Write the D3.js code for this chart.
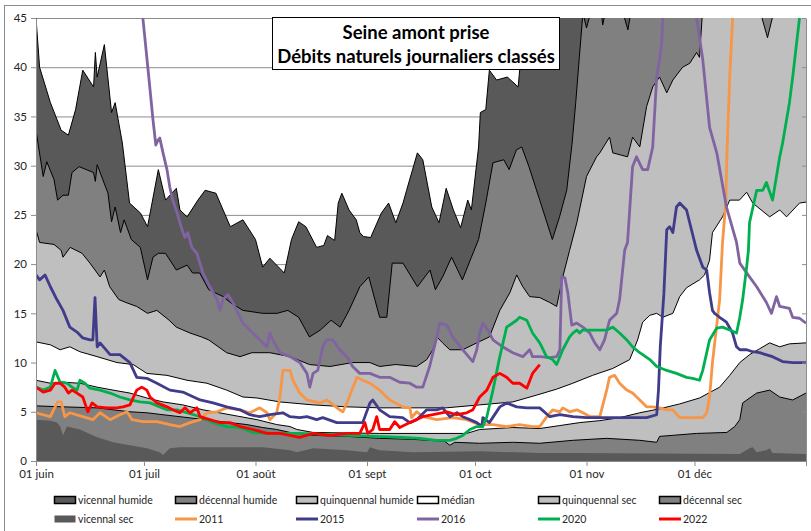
<!DOCTYPE html>
<html>
<head>
<meta charset="utf-8">
<script src="https://cdn.jsdelivr.net/npm/d3@7"></script>
<style>
	body { margin: 0; background: #fff; }
	svg { display: block; font-family: Lato, 'Liberation Sans', sans-serif; }
</style>
</head>
<body>
<div id="chart"></div>
<script>
// [days since 1 June, débit]
const vicennalHumide = [[0,45],[1,40],[4,36.4],[7,33.6],[9,33.1],[11,35.7],[13,39.7],[16,38],[16.5,41.5],[17,39],[19,42.3],[21,35.4],[22,36.4],[24,32.3],[26,26.2],[29,25.2],[31,23.8],[34,29.6],[36,26.5],[39,27.7],[40,25.5],[42,24.8],[45,26.5],[47,27.5],[50,27.2],[54,23.8],[57.5,24.5],[61,22.5],[63,19.7],[65,20.6],[69,19.1],[71,22.5],[73,24.3],[75,23.8],[78,21.7],[80,21.9],[81,22.9],[83,22.4],[84,26.2],[85,27.2],[87,25.5],[89,24.5],[90,23.2],[91,22.8],[93,22.7],[96,25.2],[98,26.2],[100,24.2],[102,26.2],[103,27.5],[106,31.3],[107.5,30.6],[110,25.8],[112,24.2],[114,27.7],[116,25.5],[118,23.7],[120,26.5],[121,25.5],[123,31.9],[123.5,35.4],[125,35.7],[126,39.7],[128,38.7],[131,39],[134,38],[134.5,40],[135,44.5],[136,48],[140,55],[150,60],[170,62],[190,65],[214,65]]
const decennalHumide = [[0,33.6],[2,28.9],[3,30.4],[5,28.6],[6,26.5],[7.5,27],[9,27],[10,29.3],[12,29.9],[16,29.3],[16.5,28.4],[17,30.1],[20,27.2],[21,24.3],[22,25.8],[23.5,23.2],[24.5,24.5],[26.5,22.5],[29,21.7],[31,18.4],[32.5,20.7],[34,21.1],[36,21.1],[39,19.4],[42,19.9],[43.5,19.1],[45.5,19.1],[48,17.4],[52,16.7],[54,16.1],[57.5,15.3],[63,15],[67,15],[70,15.3],[73,14.6],[76,12.6],[79,13.3],[82,14.3],[84.5,13.6],[87,15.3],[90,17.7],[92.5,18.7],[95.5,14.6],[97.5,14.6],[99,20.1],[102,20.1],[106,17.7],[109.5,19.4],[111,17.4],[113,18.7],[115.5,20.7],[118.5,18.4],[121,20.7],[123,22.5],[125,26.2],[127,30.3],[130,30.6],[131.5,29.6],[133.5,31.6],[135,31.9],[137,29.9],[140,26.5],[143.5,22.5],[145.5,24.8],[147.5,27.5],[149,32.3],[150,36.4],[151,41],[152,45.5],[153,44],[154.5,46],[157,46],[157.5,44.3],[158.5,46],[162,47],[164.5,43.8],[166,47],[180,52],[214,60]]
const quinquennalHumide = [[0,23.5],[1,22.2],[5,22],[7,21.4],[7.5,20.7],[9.5,21.7],[12.8,21.1],[15,20.1],[17.8,18.7],[19,19.4],[20.5,17.7],[23,16.4],[25,16.1],[28,15.7],[31,15],[33.6,15.3],[37,14.3],[39,13.6],[42.8,13],[46,12.6],[48,12.3],[53,11],[56.7,10.6],[60,11],[65,11],[70.6,10.6],[76,9.8],[81.7,9.6],[88,10],[92.8,10],[95.5,9.6],[100,9.8],[105.8,9.6],[108.6,10.3],[110.3,11.3],[111.4,12.6],[113,12],[115,11.3],[118.6,11.3],[122.5,12],[126,12.6],[128.9,15.3],[131.7,17.1],[133.6,18.9],[135.3,17.7],[137.2,16.7],[140,16.6],[142.8,16.1],[144.7,15.7],[146.4,18.7],[148.3,21.4],[150.3,24.2],[153,28.9],[155.8,30.9],[156.7,31.3],[159.4,32.9],[160.3,31.3],[164.4,30.9],[165.8,32.9],[167.8,31.9],[169.7,36],[171.4,38],[173.3,39],[175.3,37.4],[177,38.7],[179.7,40],[181.7,40.4],[183.6,41.5],[184.4,41],[185.3,46],[195,49],[201,46],[203.3,43],[205.3,46],[214,50]]
const median = [[0,12.1],[4,11.8],[6.7,11.3],[9.4,11.6],[12.2,11.1],[17,10.6],[22.5,10],[27,9.8],[30.8,8.9],[36.4,8.7],[42,8.2],[47.5,7.9],[53,7.2],[57.5,6.5],[61.4,6.4],[67.8,6],[77,5.7],[86.4,5.5],[95.5,5.4],[104.7,5.4],[114,5.4],[123.3,5.7],[132.5,6],[139.2,6.7],[144.7,7.3],[149.2,7.9],[154.7,8.7],[160.3,9.4],[165,10.3],[167.2,12.3],[168.6,14.1],[170.6,14.8],[172.5,15],[174.2,14.6],[177,15],[178.9,16.7],[180.8,17.6],[184.4,18.4],[185.8,18.9],[187.2,20.4],[188,23.2],[190.8,24.8],[192.8,26.5],[195.5,26.5],[197.5,27.3],[199.2,26.2],[203.9,24.8],[206.7,25.5],[208.6,24.8],[212.2,26.2],[214,26.3]]
const quinquennalSec = [[0,8.2],[4,7.9],[7.5,8],[12.2,7.9],[17,7.5],[21.4,7.2],[26.1,6.9],[30.8,6.4],[35.3,6],[40.8,5.7],[46.4,5.2],[53.9,4.7],[61.4,4.2],[66.9,3.7],[70.6,3.5],[72.5,3.2],[77,2.9],[95.5,2.8],[119.7,2.8],[123.3,3.2],[132.5,3.4],[140,3.3],[145.6,3.6],[151.1,3.9],[156.7,4.1],[162.2,4.4],[167.8,4.9],[173.3,5.3],[178.9,5.8],[184.4,6.4],[190,7.5],[192.8,8.7],[195.6,10],[198.3,10.8],[201.1,11.4],[203.9,12],[206.7,11.6],[209.4,11.9],[214,12]]
const decennalSec = [[0,5.6],[7.5,5.5],[17,5.4],[21.4,5.2],[26.1,5],[30.8,4.9],[35.3,4.7],[40,4.5],[44.7,4.3],[49.2,4.1],[53.9,3.9],[58.6,3.7],[63,3.4],[66.9,3.2],[70.6,2.9],[77,2.6],[86.4,2.5],[95.5,2.3],[104.7,2.2],[113.6,2],[115,1.6],[116.4,1.9],[123.3,1.8],[132.5,1.9],[140,1.8],[149.2,2.1],[158.6,2.3],[167.8,2.1],[172.5,1.9],[173.3,2.5],[183.6,2.8],[192,2.9],[194.2,3.5],[195.6,4.2],[196.4,5.9],[200.3,6.9],[203.9,7.2],[206.7,6.5],[210.3,6.2],[214,6.9]]
const vicennalSec = [[0,4.2],[4,4.1],[5.8,3.9],[6.7,3.5],[7.5,2.6],[8.6,3.5],[12.2,3.2],[17,2.4],[21.4,1.9],[26.1,1.6],[30.8,1.3],[34.4,0.9],[35.3,0.6],[37.2,1.3],[40,1.4],[63,1.4],[70.6,1.1],[72.5,0.9],[77,1.3],[86.4,1.1],[92,0.9],[92.8,1.4],[95.5,1.1],[104.7,0.9],[123.3,1],[140,0.8],[149.2,0.8],[195.6,0.7],[198.3,1.3],[199.2,1.4],[200.3,0.9],[203,1.1],[203.9,1.3],[204.7,0.8],[214,0.7]]

const year2011 = [[0,4.9],[2,4.7],[4,4.5],[6,6],[7,6],[8,4.5],[9.4,4.9],[13,4.5],[15.8,4.2],[17.8,4.9],[20.6,4.2],[23.3,4.7],[25.3,5],[26.7,4.2],[29.7,4],[33.6,4],[37.2,3.7],[40,3.5],[42.8,3.9],[45.6,4.2],[47.5,4.9],[50.3,5],[53,5.4],[56.7,5.2],[59.4,4.9],[62.2,5.4],[64.2,4.9],[65,4.2],[66.9,4.9],[67.8,6.5],[68.6,9.2],[70.6,9.2],[71.4,8.2],[73.3,6.9],[75.3,6.2],[78.9,5.9],[80.8,6.2],[84.4,5.2],[85.3,5],[86.4,5.9],[89.2,8.5],[90.8,8.2],[92.8,7.9],[95.5,7.2],[98.3,6.2],[101.9,5.5],[103.9,5.4],[104.4,4.4],[105.8,5],[107.5,4.5],[111.4,4.2],[115.8,4.4],[119.7,4.2],[123.3,3.7],[127,3.7],[130.8,3.5],[134.4,3.7],[138,3.5],[140,3.5],[142,4.5],[143.6,5.2],[145.6,5],[146.4,5.4],[148.3,5],[150.3,5.2],[152,4.9],[154,4.5],[156.7,4.5],[158.6,7.2],[159.4,8.5],[160.8,8.7],[162.2,7.9],[164.2,7.2],[165.8,6.9],[167.8,6.2],[169.7,5.5],[171.4,5.5],[173.3,5.4],[175.3,5.2],[177,5.2],[178.9,4.4],[182.5,4.4],[185.3,4.4],[186.4,4.9],[187.2,6.5],[188,10],[190,16.4],[190.8,22.2],[191.7,26.2],[192,30.9],[192.8,39],[193.6,45],[194.5,52]]
const year2015 = [[0,18.9],[1,18.4],[2.5,18.9],[4,17.7],[5.8,16.4],[7.5,15.3],[9.4,13.6],[11.4,13.1],[13,12.5],[15,12.3],[15.8,12.3],[16.4,16.6],[17,11.6],[17.8,12],[20.6,10.8],[23.3,10.8],[26.1,10],[28,8.5],[30.8,8.4],[33.6,7.9],[37.2,7.2],[40.8,7],[45.6,6.2],[49.2,5.9],[53,5.5],[56.7,5.2],[59.4,4.7],[62.2,4.5],[65,4.7],[68.6,4.9],[70.6,4.5],[73.3,4.4],[75.3,4.5],[78,4.2],[79.7,4.4],[83.6,3.9],[87.2,3.9],[90.8,3.9],[92.8,5.9],[93.6,6.2],[95.5,5.2],[98.3,4.5],[101.9,4.4],[103.9,3.9],[105.8,4.2],[108.6,5.2],[111.4,5.2],[113,5.4],[115,4.5],[117,4.9],[118.6,4.5],[120.6,4.2],[122.5,3.9],[123.9,3.5],[124.2,4.4],[126,3.9],[128.9,5.5],[130.8,5.9],[133.6,5.5],[136.4,5.4],[140,5.4],[142.8,4.5],[145.6,4.7],[149.2,4.5],[153,4.4],[158.6,4.4],[164.2,4.4],[169.7,4.4],[172.5,4.7],[173,7.2],[173.5,11.6],[174.5,17],[175.3,23.5],[176.1,23.8],[177,23.2],[178,25.8],[178.9,26.2],[180.8,25.5],[183.6,21.4],[185.3,19.7],[186.4,19.4],[187.2,17.1],[188,15.3],[188.6,15],[190,14.6],[191.9,14.1],[193.6,13],[194.7,11.6],[195.6,11.3],[197.5,11.3],[199.2,11.1],[201.1,11],[204.7,10.6],[207.5,10.1],[210.3,10],[214,10]]
const year2016 = [[28,52],[29.7,45],[30.8,41],[31.7,37.7],[32.5,34.7],[33.3,32.1],[33.9,32.6],[34.4,32.8],[35.3,31.3],[36.4,29.6],[37.2,27.8],[38,26.5],[39.2,25.2],[40.6,23.5],[41.4,22.7],[42.2,23.2],[43.3,21.7],[44.7,21.1],[46.4,19.1],[48.3,17.7],[50.3,16.4],[51.1,15.3],[52,16.4],[53.3,16.9],[54.7,16.1],[57.5,14],[59.4,13.3],[62.2,12.3],[64.2,11.6],[65,13],[65.8,12.3],[67.8,11],[70.6,10.6],[73.3,10],[75.3,8.9],[76.1,7.5],[77,8.9],[78.3,9.2],[79.7,11.6],[80.8,12.3],[82.5,12.3],[84.4,11.3],[86.4,10.6],[88,9.6],[90,8.9],[92.8,8.9],[95.5,8.5],[98.3,8.5],[101.1,8],[103.9,7.9],[105.8,7.5],[107.5,7.5],[109.4,9.6],[111.4,12.6],[112.2,14],[114.2,13.8],[115.8,12.6],[118.6,11.3],[121.4,10.1],[122.5,11.3],[123.3,13],[124.2,14],[125.6,13.3],[127,12.3],[129.7,11.6],[132.5,11],[135.3,10.6],[137.2,11.3],[138,10.6],[140,10.6],[142.8,10.5],[144.7,10.6],[145.6,11.3],[146.1,18.7],[147,18.6],[147.8,17.1],[148.9,13.8],[150.3,14],[152,13.6],[153.9,13],[155.3,12],[156.7,11.3],[158,12.3],[159.4,14.3],[161.4,15],[162.2,16.4],[163.6,21.4],[164.4,22.2],[165.8,29.9],[166.9,30.9],[168.6,29.6],[170,29.6],[171.4,31.9],[172.5,39],[173.3,40.8],[173.9,42.5],[174.2,45],[175,52],[183,52],[183.6,45],[185.3,40.8],[187.2,33.9],[189.2,31.3],[191.9,25.8],[194.7,22.2],[195.6,20.1],[198.3,18.7],[200.3,17.7],[203,16.1],[204.4,15],[205.8,16.7],[206.7,15.7],[209.4,15.5],[210.3,14.6],[212.2,14.5],[214,14]]
const year2020 = [[0,7.5],[2,7.2],[4,7.5],[5.3,9.2],[6.7,8],[8.6,7.9],[10,7.5],[11.4,7.2],[12.2,8.2],[13.6,7.9],[15,7.4],[17.8,7.2],[20.6,6.9],[23.3,6.5],[26.1,6.2],[28.9,6],[31.7,5.9],[34.4,5.5],[36.4,5.2],[39.2,5.2],[41.9,4.9],[45.6,4.5],[49.2,3.9],[53,3.5],[56.7,3.4],[60.3,2.9],[65,2.8],[73.3,2.8],[87.2,2.6],[101.9,2.4],[106.7,2.3],[111.4,2.1],[115,2.1],[116.9,2.3],[118.6,2.6],[120.6,3.2],[122.5,3.5],[124.2,3.5],[125.3,4.5],[127,7.2],[128.9,10.6],[130.8,13.6],[133.6,14.3],[134.4,14.6],[136.4,14.3],[138,13],[140,12],[141.9,10.6],[143.6,10.3],[144.7,9.8],[146.4,11.3],[148.3,12.6],[149.2,13],[150.3,13.3],[151.1,13],[151.9,13.3],[158.6,13.3],[160.3,13.6],[162.2,13],[164.2,12.3],[165.8,11.6],[167.8,11],[170.6,10.3],[172.5,9.6],[175.3,9.2],[178,8.9],[180.8,8.5],[182.5,8.4],[184.4,8.2],[185.3,9.2],[187.2,12.3],[189.2,13.5],[190.8,13.6],[192.8,13.3],[194.7,13],[195.6,14.6],[196.4,16.4],[197.5,19.7],[198,21.4],[198.3,24.2],[200.3,27.5],[202,27.5],[203,28.3],[204.7,26.5],[206.7,30.9],[207.5,32.3],[209.4,36.4],[210.3,39],[211.4,42.5],[212.2,45],[213,50]]
const year2022 = [[0,7.5],[2,7],[4,7.2],[5.3,7.9],[6.7,7.9],[8,7.5],[9,6.9],[10,7.2],[11.4,6.9],[13,6.5],[14.4,5],[15.6,5.9],[17,5.5],[19.7,5.4],[22.5,5.4],[24.2,5.5],[26.1,5.7],[28,7.2],[29.4,7.5],[30.8,7.2],[31.7,6.5],[33.6,5.9],[36.4,5.5],[38,5.2],[40,4.9],[41.4,5.4],[42.8,4.9],[44.7,5.4],[45.6,4.5],[48.3,4.2],[51.1,3.9],[53.9,3.9],[56.7,3.5],[60.3,3.2],[64.2,2.8],[67.8,2.8],[73.3,2.4],[77,2.8],[81.7,2.6],[86.4,2.8],[90,2.8],[91.4,3.9],[92.2,2.8],[93.6,3.2],[94.7,4.5],[95.5,3.2],[98.3,3.2],[99.7,4],[101.1,3.4],[103.9,3.9],[107.5,4.5],[110.3,4.7],[114.2,5],[116.9,4.7],[119.7,4.9],[121.4,5.2],[123.3,6.5],[125.3,7.2],[127,8.5],[128.9,8.9],[130.8,8.5],[132.5,7.9],[134.4,7.9],[136.4,7.4],[138,8.9],[140,9.8]]

const yTicks = [0, 5, 10, 15, 20, 25, 30, 35, 40, 45]
const xTickLabels = ['01 juin', '01 juil', '01 août', '01 sept', '01 oct', '01 nov', '01 déc', '']
const titleLines = ['Seine amont prise', 'Débits naturels journaliers classés']

const bands = [
	{ label: 'vicennal humide', values: vicennalHumide, fill: '#595959', border: true },
	{ label: 'décennal humide', values: decennalHumide, fill: '#808080', border: true },
	{ label: 'quinquennal humide', values: quinquennalHumide, fill: '#bfbfbf', border: true },
	{ label: 'médian', values: median, fill: '#ffffff', border: true },
	{ label: 'quinquennal sec', values: quinquennalSec, fill: '#bfbfbf', border: true },
	{ label: 'décennal sec', values: decennalSec, fill: '#808080', border: true },
	{ label: 'vicennal sec', values: vicennalSec, fill: '#595959', border: false }
]
const years = [
	{ label: '2011', values: year2011, colour: '#f79646' },
	{ label: '2015', values: year2015, colour: '#403c8a' },
	{ label: '2016', values: year2016, colour: '#8064a2' },
	{ label: '2020', values: year2020, colour: '#00b050' },
	{ label: '2022', values: year2022, colour: '#ff0000' }
]

const width = 811, height = 531
const plot = { left: 36, right: 806, top: 18, bottom: 461 }
const start = new Date(Date.UTC(2022, 5, 1))
const end = new Date(Date.UTC(2023, 0, 1))
const toDate = d => new Date(start.getTime() + d * 864e5)

const svg = d3.select('#chart').append('svg')
	.attr('width', width)
	.attr('height', height)

// outer chart frame
svg.append('rect')
	.attr('x', 4.5).attr('y', 5.5)
	.attr('width', 900).attr('height', 600)
	.attr('fill', '#fff')
	.attr('stroke', '#8c8c8c')

const x = d3.scaleUtc().domain([start, end]).range([plot.left, plot.right])
const y = d3.scaleLinear().domain([0, 45]).range([plot.bottom, plot.top])

svg.append('defs').append('clipPath').attr('id', 'plotclip')
	.append('rect')
		.attr('x', plot.left).attr('y', plot.top)
		.attr('width', plot.right - plot.left).attr('height', plot.bottom - plot.top)

svg.append('g')
	.selectAll('line')
	.data(yTicks.slice(1))
	.enter().append('line')
		.attr('x1', plot.left).attr('x2', plot.right)
		.attr('y1', d => y(d) + 0.5).attr('y2', d => y(d) + 0.5)
		.attr('stroke', '#8c8c8c')

const area = d3.area()
	.x(d => x(toDate(d[0])))
	.y0(y(0))
	.y1(d => y(d[1]))
const edge = d3.line()
	.x(d => x(toDate(d[0])))
	.y(d => y(d[1]))

const chartBody = svg.append('g').attr('clip-path', 'url(#plotclip)')

bands.forEach(b => {
	chartBody.append('path')
		.attr('d', area(b.values))
		.attr('fill', b.fill)
	if (b.border)
		chartBody.append('path')
			.attr('d', edge(b.values))
			.attr('fill', 'none')
			.attr('stroke', '#000')
			.attr('stroke-width', 1)
})

years.forEach(s => {
	chartBody.append('path')
		.attr('d', edge(s.values))
		.attr('fill', 'none')
		.attr('stroke', s.colour)
		.attr('stroke-width', 2.8)
		.attr('stroke-linejoin', 'round')
})

// axes
const styleAxis = g => {
	g.select('.domain').attr('stroke', '#8c8c8c')
	g.selectAll('.tick line').attr('stroke', '#8c8c8c')
	g.selectAll('text').attr('fill', '#262626').attr('font-size', 11.5).attr('font-family', 'Lato, sans-serif')
}

svg.append('g')
	.attr('transform', `translate(${plot.left},0)`)
	.call(d3.axisLeft(y).tickValues(yTicks).tickSize(5).tickPadding(4).tickSizeOuter(0))
	.call(styleAxis)

svg.append('g')
	.attr('transform', `translate(${plot.right},0)`)
	.call(d3.axisRight(y).tickValues(yTicks).tickSize(-4).tickSizeOuter(0).tickFormat(''))
	.call(styleAxis)

const monthTicks = d3.utcMonth.range(start, d3.utcDay.offset(end, 1))
svg.append('g')
	.attr('transform', `translate(0,${plot.bottom})`)
	.call(d3.axisBottom(x).tickValues(monthTicks).tickFormat((d, i) => xTickLabels[i]).tickSize(5).tickPadding(4).tickSizeOuter(0))
	.call(styleAxis)

// title box
const title = svg.append('g')
title.append('rect')
	.attr('x', 272.5).attr('y', 17.5)
	.attr('width', 287).attr('height', 52)
	.attr('fill', '#fff')
	.attr('stroke', '#000')
title.selectAll('text')
	.data(titleLines)
	.enter().append('text')
		.attr('x', 416)
		.attr('y', (d, i) => 39 + i * 24)
		.attr('text-anchor', 'middle')
		.attr('font-weight', 'bold')
		.attr('font-size', 18.5)
		.attr('fill', '#000')
		.text(d => d)

// legend
const legendItems = bands.map(b => ({ type: 'area', ...b }))
	.concat(years.map(s => ({ type: 'line', ...s })))
const legendCols = 6
const legend = svg.append('g')
const item = legend.selectAll('g')
	.data(legendItems)
	.enter().append('g')
		.attr('transform', (d, i) => `translate(${54 + (i % legendCols) * 121},${500 + Math.floor(i / legendCols) * 19})`)

item.filter(d => d.type === 'area').append('rect')
	.attr('x', 0.5).attr('y', -3.5)
	.attr('width', 21).attr('height', 7)
	.attr('fill', d => d.fill)
	.attr('stroke', d => d.border ? '#000' : 'none')
	.attr('stroke-width', 1.5)

item.filter(d => d.type === 'line').append('line')
	.attr('x1', 0).attr('x2', 22)
	.attr('y1', 0).attr('y2', 0)
	.attr('stroke', d => d.colour)
	.attr('stroke-width', 3)

item.append('text')
	.attr('x', 24)
	.attr('y', 4)
	.attr('font-size', 10.5)
	.attr('fill', '#262626')
	.text(d => d.label)
</script>
</body>
</html>
